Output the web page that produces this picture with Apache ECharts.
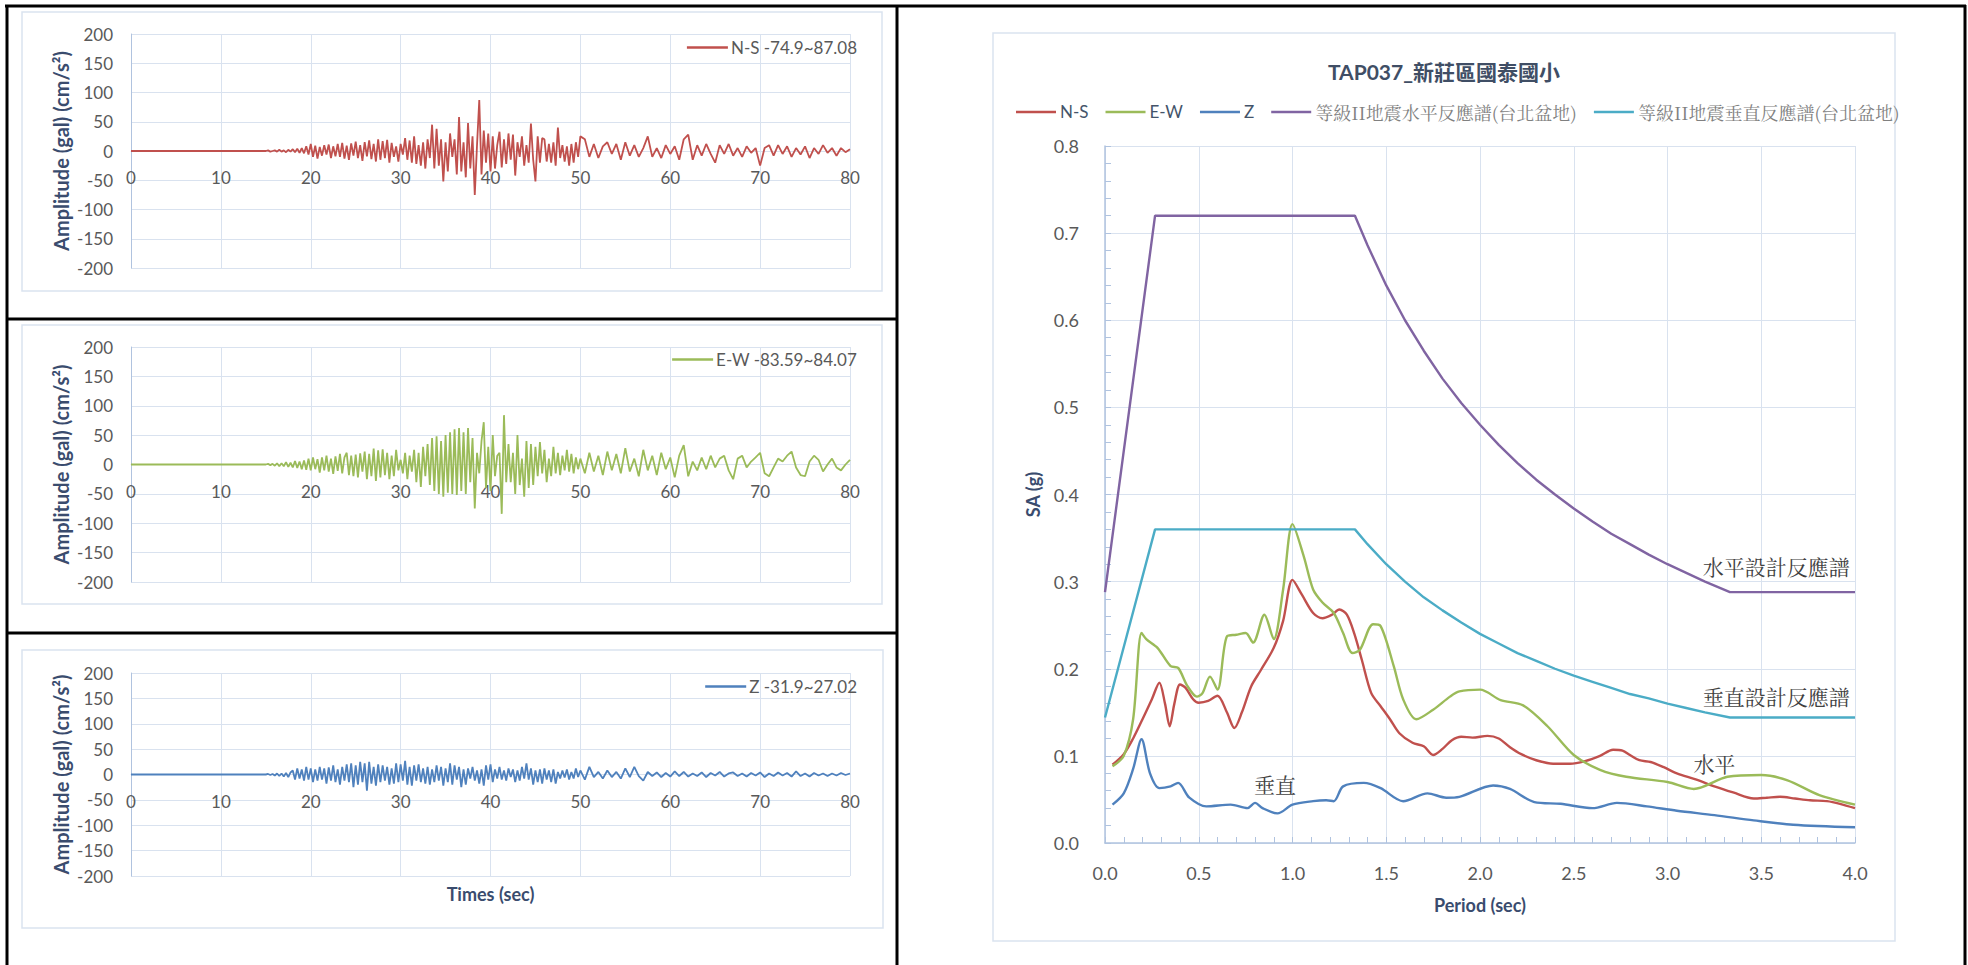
<!DOCTYPE html>
<html><head><meta charset="utf-8">
<script src="https://cdn.jsdelivr.net/npm/echarts@6/dist/echarts.min.js"></script>
<style>html,body{margin:0;padding:0;background:#fff;}#c{width:1968px;height:965px;}</style>
</head><body><div id="c"></div>
<script>
// ---------- Time histories (gal). Flat 0 from 0 s to 15 s, then samples every 0.25 s to 50 s, then every 0.5 s to 80 s
const wfStartA = 15, wfStepA = 0.25, wfStartB = 50.5, wfStepB = 0.5;
const nsA = [
 0,1,-1,0, 1,-1,2,-1, 1,-2,2,-1, 3,-2,4,-3, 5,-4,8,-6,
 12,-10,9,-13, 7,-8,10,-6, 11,-12,8,-9, 12,-10,14,-13, 9,-15,13,-8,
 16,-12,10,-17, 15,-9,18,-14, 12,-18,20,-15, 17,-12,19,-20, 14,-10,8,-18,
 12,-6,22,-15, 18,-20,25,-22, 10,-25,15,-30, 20,-12,45,-30, 38,-25,20,-52,
 15,-35,30,-10, 20,-40,58,-35, 15,-45,48,-30, 25,-75,10,87, -40,35,-20,30,
 -35,25,-30,10, 33,-28,20,-22, 30,-15,28,-42, 15,-10,25,-25, 10,-20,47,-15,
 -52,25,-20,22, 20,-18,12,-20, 15,-25,40,-12, 10,-18,8,-25, 12,-20,15,-10,
 25];
const nsB = [
 20,-10,12,-12,8,15,-5,12,-15,15,
 -8,10,-10,5,25,-10,5,-12,10,-5,
 8,-15,20,28,-15,10,-8,12,-5,-20,
 10,-5,12,-8,5,-10,8,-3,5,-25,
 5,10,-8,10,-5,8,-10,5,-6,8,
 -12,5,-5,10,-3,5,-8,5,-2,3];
const ewA = [
 0,1,-1,1, -2,2,-3,2, -3,4,-4,3, -5,6,-6,5, -8,7,-9,10,
 -10,12,-8,9, -14,12,-10,15, -12,10,-16,14, -11,18,-15,12, 20,-18,15,-20,
 17,-22,19,-12, 22,-25,18,-20, 27,-28,24,-22, 26,-18,20,-25, 15,-20,25,-10,
 8,-15,20,-25, 15,-12,25,-30, 20,-38,30,-20, 35,-35,45,-45, 48,-50,40,-55,
 50,-48,55,-50, 60,-52,62,-45, 55,-50,62,-30, 45,-75,20,-15, 40,72,-40,30,
 -45,50,-20,15, 20,-84,84,-30, 35,-30,20,-50, 50,-35,10,-55, 40,-40,35,-35,
 30,-20,38,-15, 25,-30,10,-20, 30,-15,20,-18, 15,-10,25,-12, 18,-15,12,-8,
 10];
const ewB = [
 -15,20,-12,15,-18,22,-10,18,-15,28,
 -12,10,-20,25,-10,15,-18,20,-8,12,
 -22,15,33,-20,5,-10,12,-8,15,-5,
 10,15,-10,-25,10,15,-5,5,12,20,
 -15,-20,-5,10,5,15,22,-5,-18,-20,
 5,15,8,-12,0,10,-5,-10,0,8];
const zA = [
 0,1,-1,1, -2,2,-3,2, -4,3,-5,4, 8,-10,12,-8, 10,-12,15,-10,
 12,-15,10,-12, 15,-10,12,-18, 14,-12,18,-15, 10,-20,15,-12, 20,-15,22,-25,
 18,-20,25,-15, 22,-32,25,-18, 15,-22,20,-15, 18,-12,15,-20, 12,-18,22,-15,
 20,-12,27,-20, 15,-22,18,-12, 20,-15,12,-18, 15,-20,10,-15, 18,-12,15,-22,
 12,-15,22,-20, 18,-10,15,-25, 10,-20,12,-8, 15,-12,8,-18, 10,-22,18,-10,
 20,-15,10,-8, 15,-10,8,-12, 12,-5,10,-15, 8,-12,15,-8, 22,-10,12,-20,
 8,-15,10,-18, 12,-10,8,-15, 10,-18,5,-8, 8,-6,10,-10, 5,-8,12,-5,
 8];
const zB = [
 -10,15,-5,5,-8,8,-5,5,-8,12,
 -5,15,-3,-12,5,-3,4,-5,3,-4,
 6,-3,5,-4,2,-3,4,-5,3,-2,
 5,-4,2,4,-3,2,-4,3,-2,4,
 -5,2,-3,4,-2,3,-4,6,-3,2,
 -4,3,-2,2,-3,2,-2,3,-1,2];
const wfNames = ['N-S -74.9~87.08', 'E-W -83.59~84.07', 'Z -31.9~27.02'];

// ---------- Response spectra [period (s), SA (g)]
const nsSpec = [[0.04,0.090],[0.1,0.102],[0.15,0.120],[0.2,0.142],[0.25,0.165],[0.29,0.184],[0.32,0.160],[0.345,0.134],[0.37,0.160],[0.40,0.182],[0.43,0.178],[0.47,0.165],[0.50,0.161],[0.55,0.163],[0.60,0.169],[0.65,0.150],[0.69,0.132],[0.73,0.150],[0.78,0.180],[0.83,0.198],[0.90,0.224],[0.95,0.255],[1.0,0.302],[1.05,0.285],[1.11,0.264],[1.16,0.258],[1.21,0.262],[1.25,0.268],[1.29,0.262],[1.33,0.240],[1.37,0.210],[1.42,0.172],[1.47,0.157],[1.52,0.142],[1.57,0.126],[1.64,0.115],[1.70,0.111],[1.75,0.101],[1.80,0.108],[1.85,0.118],[1.90,0.122],[1.96,0.121],[2.04,0.123],[2.10,0.120],[2.16,0.110],[2.22,0.102],[2.30,0.095],[2.39,0.091],[2.48,0.091],[2.56,0.094],[2.64,0.100],[2.71,0.107],[2.76,0.106],[2.80,0.101],[2.85,0.095],[2.91,0.093],[2.98,0.087],[3.05,0.080],[3.15,0.073],[3.25,0.065],[3.35,0.058],[3.46,0.051],[3.53,0.052],[3.60,0.053],[3.68,0.051],[3.76,0.049],[3.85,0.048],[3.92,0.045],[4.0,0.040]];
const ewSpec = [[0.04,0.088],[0.1,0.100],[0.15,0.142],[0.195,0.241],[0.22,0.234],[0.28,0.224],[0.35,0.203],[0.39,0.201],[0.44,0.180],[0.49,0.168],[0.52,0.172],[0.56,0.191],[0.60,0.176],[0.65,0.237],[0.70,0.239],[0.75,0.241],[0.79,0.230],[0.85,0.262],[0.90,0.234],[0.95,0.291],[1.0,0.366],[1.06,0.329],[1.11,0.291],[1.16,0.276],[1.22,0.264],[1.27,0.241],[1.32,0.218],[1.36,0.222],[1.43,0.251],[1.47,0.249],[1.54,0.203],[1.59,0.165],[1.66,0.142],[1.75,0.153],[1.84,0.168],[1.89,0.174],[2.0,0.176],[2.11,0.164],[2.23,0.158],[2.36,0.134],[2.50,0.101],[2.64,0.084],[2.78,0.076],[3.0,0.070],[3.14,0.062],[3.32,0.076],[3.50,0.078],[3.64,0.072],[3.81,0.055],[4.0,0.044]];
const zSpec = [[0.04,0.044],[0.1,0.057],[0.15,0.085],[0.195,0.119],[0.24,0.080],[0.29,0.063],[0.35,0.065],[0.39,0.069],[0.45,0.052],[0.54,0.042],[0.67,0.044],[0.76,0.040],[0.80,0.046],[0.84,0.040],[0.92,0.034],[1.0,0.044],[1.11,0.048],[1.18,0.049],[1.22,0.048],[1.27,0.065],[1.38,0.069],[1.47,0.063],[1.59,0.048],[1.72,0.057],[1.82,0.052],[1.89,0.053],[2.07,0.066],[2.16,0.062],[2.29,0.047],[2.43,0.045],[2.60,0.040],[2.73,0.046],[2.89,0.042],[3.05,0.037],[3.25,0.032],[3.46,0.026],[3.67,0.021],[4.0,0.018]];
const hzDesign = [[0,0.288],[0.267,0.72],[1.333,0.72],[1.4,0.686],[1.5,0.640],[1.6,0.600],[1.7,0.565],[1.8,0.533],[1.9,0.505],[2.0,0.480],[2.1,0.457],[2.2,0.436],[2.3,0.417],[2.4,0.400],[2.5,0.384],[2.6,0.369],[2.7,0.355],[2.8,0.343],[2.9,0.331],[3.0,0.320],[3.1,0.310],[3.2,0.300],[3.333,0.288],[4.0,0.288]];
const vtDesign = [[0,0.144],[0.267,0.36],[1.333,0.36],[1.4,0.343],[1.5,0.320],[1.6,0.300],[1.7,0.282],[1.8,0.267],[1.9,0.253],[2.0,0.240],[2.1,0.229],[2.2,0.218],[2.3,0.209],[2.4,0.200],[2.5,0.192],[2.6,0.185],[2.7,0.178],[2.8,0.171],[2.9,0.166],[3.0,0.160],[3.1,0.155],[3.2,0.150],[3.333,0.144],[4.0,0.144]];
const specNames = ['N-S', 'E-W', 'Z', '等級II地震水平反應譜(台北盆地)', '等級II地震垂直反應譜(台北盆地)'];
const specTitle = 'TAP037_新莊區國泰國小';
const wfTicksX = [0, 80, 10], wfTicksY = [-200, 200, 50];
const spTicksX = [0, 4, 0.5], spTicksY = [0, 0.8, 0.1];

// ---------- build
const F = 'Lato, "Noto Sans CJK TC", sans-serif';
const SERIF = '"Noto Serif CJK TC", "Noto Sans CJK TC", serif';
const C = { red: '#C0504D', green: '#9BBB59', blue: '#4F81BD', purple: '#8064A2', cyan: '#4BACC6' };
const GRIDC = '#D9E2EF', AXC = '#B0C3DF', LBL = '#595959', NAMEC = '#3A4C6E';

function wave(a, b) {
  return [[0, 0]].concat(a.map((v, i) => [wfStartA + i * wfStepA, v]), b.map((v, i) => [wfStartB + i * wfStepB, v]));
}
const waves = [wave(nsA, nsB), wave(ewA, ewB), wave(zA, zB)];
const wcol = [C.red, C.green, C.blue];

const leftGrids = [{ top: 34, height: 234 }, { top: 347, height: 235 }, { top: 673, height: 203 }];
const grid = leftGrids.map(g => ({ left: 131, width: 719, top: g.top, height: g.height }));
grid.push({ left: 1105, width: 750, top: 146, height: 697 });

const xAxis = [], yAxis = [], series = [], legend = [];
for (let i = 0; i < 3; i++) {
  xAxis.push({
    type: 'value', gridIndex: i, min: wfTicksX[0], max: wfTicksX[1], interval: wfTicksX[2],
    // the category axis sits on the zero line (middle of the symmetric range)
    offset: -leftGrids[i].height / 2,
    axisLine: { onZero: false, lineStyle: { color: GRIDC } }, axisTick: { show: false },
    axisLabel: { color: LBL, fontSize: 17, fontFamily: F, margin: 18 },
    splitLine: { lineStyle: { color: GRIDC } },
    name: i === 2 ? 'Times (sec)' : '', nameLocation: 'middle', nameGap: 110,
    nameTextStyle: { fontWeight: 'bold', fontSize: 18, color: NAMEC, fontFamily: F }
  });
  yAxis.push({
    type: 'value', gridIndex: i, min: wfTicksY[0], max: wfTicksY[1], interval: wfTicksY[2],
    axisLine: { show: true, onZero: false, lineStyle: { color: AXC } }, axisTick: { show: false },
    axisLabel: { color: LBL, fontSize: 17, fontFamily: F, margin: 18 },
    splitLine: { lineStyle: { color: GRIDC } },
    name: 'Amplitude (gal) (cm/s²)', nameLocation: 'middle', nameGap: 60,
    nameTextStyle: { fontWeight: 'bold', fontSize: 20, color: NAMEC, fontFamily: F }
  });
  series.push({
    name: wfNames[i], type: 'line', xAxisIndex: i, yAxisIndex: i, data: waves[i],
    symbol: 'none', lineStyle: { width: 1.8, color: wcol[i] }, itemStyle: { color: wcol[i] }
  });
  legend.push({
    data: [wfNames[i]], right: 1106, top: [34, 346, 673][i], icon: 'rect', itemWidth: 41, itemHeight: 2.5,
    itemGap: 10, textStyle: { color: LBL, fontSize: 17, fontFamily: F, padding: [0, 0, 0, -2] }
  });
}
xAxis.push({
  type: 'value', gridIndex: 3, min: spTicksX[0], max: spTicksX[1], interval: spTicksX[2],
  axisLine: { onZero: false, lineStyle: { color: AXC, width: 1.5 } },
  axisTick: { show: true, inside: true, length: 6, lineStyle: { color: AXC } },
  minorTick: { show: true, splitNumber: 5, length: 6, lineStyle: { color: AXC } },
  axisLabel: { color: LBL, fontSize: 18, fontFamily: F, margin: 21, formatter: v => v.toFixed(1) },
  splitLine: { lineStyle: { color: GRIDC } },
  name: 'Period (sec)', nameLocation: 'middle', nameGap: 53,
  nameTextStyle: { fontWeight: 'bold', fontSize: 18, color: NAMEC, fontFamily: F }
});
yAxis.push({
  type: 'value', gridIndex: 3, min: spTicksY[0], max: spTicksY[1], interval: spTicksY[2],
  axisLine: { show: true, onZero: false, lineStyle: { color: AXC, width: 1.5 } },
  axisTick: { show: true, inside: true, length: 6, lineStyle: { color: AXC } },
  minorTick: { show: true, splitNumber: 5, length: 6, lineStyle: { color: AXC } },
  axisLabel: { color: LBL, fontSize: 18, fontFamily: F, margin: 26, formatter: v => v.toFixed(1) },
  splitLine: { lineStyle: { color: GRIDC } },
  name: 'SA (g)', nameLocation: 'middle', nameGap: 63,
  nameTextStyle: { fontWeight: 'bold', fontSize: 18, color: NAMEC, fontFamily: F }
});

function note(text, coord) {
  return {
    symbol: 'circle', symbolSize: 1, silent: true, itemStyle: { color: 'rgba(0,0,0,0)' },
    label: { show: true, position: 'inside', formatter: '{b}', fontSize: 21, color: '#404040', fontFamily: SERIF },
    data: [{ name: text, coord: coord }]
  };
}
const specData = [nsSpec, ewSpec, zSpec, hzDesign, vtDesign];
const specCol = [C.red, C.green, C.blue, C.purple, C.cyan];
const notes = [null, note('水平', [3.25, 0.092]), note('垂直', [0.907, 0.068]),
  note('水平設計反應譜', [3.58, 0.318]), note('垂直設計反應譜', [3.58, 0.169])];
specNames.forEach((n, i) => {
  const s = {
    name: n, type: 'line', xAxisIndex: 3, yAxisIndex: 3, data: specData[i], symbol: 'none',
    smooth: i < 3 ? 0.3 : false, lineStyle: { width: 2.4, color: specCol[i] }, itemStyle: { color: specCol[i] }
  };
  if (notes[i]) s.markPoint = notes[i];
  series.push(s);
});
const cjkLegendText = { color: '#808080', fontSize: 18, fontFamily: SERIF };
legend.push({
  data: specNames.map((n, i) => i < 3 ? { name: n } : { name: n, textStyle: cjkLegendText }),
  left: 1011, top: 98, icon: 'rect', itemWidth: 40, itemHeight: 2.5, itemGap: 17,
  textStyle: { color: '#44546A', fontSize: 17, fontFamily: F, padding: [0, 0, 0, -1] }
});

const K = '#000';
const graphic = [
  { type: 'line', shape: { x1: 5, y1: 6, x2: 1966, y2: 6 }, style: { stroke: K, lineWidth: 3 } },
  { type: 'line', shape: { x1: 7, y1: 5, x2: 7, y2: 965 }, style: { stroke: K, lineWidth: 3 } },
  { type: 'line', shape: { x1: 1965, y1: 5, x2: 1965, y2: 965 }, style: { stroke: K, lineWidth: 3 } },
  { type: 'line', shape: { x1: 897, y1: 5, x2: 897, y2: 965 }, style: { stroke: K, lineWidth: 3 } },
  { type: 'line', shape: { x1: 7, y1: 319, x2: 897, y2: 319 }, style: { stroke: K, lineWidth: 3 } },
  { type: 'line', shape: { x1: 7, y1: 633, x2: 897, y2: 633 }, style: { stroke: K, lineWidth: 3 } },
  { type: 'rect', shape: { x: 22, y: 12, width: 860, height: 279 }, style: { fill: 'none', stroke: '#DAE3F0', lineWidth: 1.5 } },
  { type: 'rect', shape: { x: 22, y: 325, width: 860, height: 279 }, style: { fill: 'none', stroke: '#DAE3F0', lineWidth: 1.5 } },
  { type: 'rect', shape: { x: 22, y: 650, width: 861, height: 278 }, style: { fill: 'none', stroke: '#DAE3F0', lineWidth: 1.5 } },
  { type: 'rect', shape: { x: 993, y: 33, width: 902, height: 908 }, style: { fill: 'none', stroke: '#DAE3F0', lineWidth: 1.5 } },
  { type: 'text', x: 1444, y: 71, style: { text: specTitle, fill: '#404E65', font: 'bold 21px ' + F, textAlign: 'center', textVerticalAlign: 'middle' } }
];

const chart = echarts.init(document.getElementById('c'), null, { renderer: 'svg' });
chart.setOption({ animation: false, backgroundColor: '#fff', grid, xAxis, yAxis, series, legend, graphic });
</script></body></html>
